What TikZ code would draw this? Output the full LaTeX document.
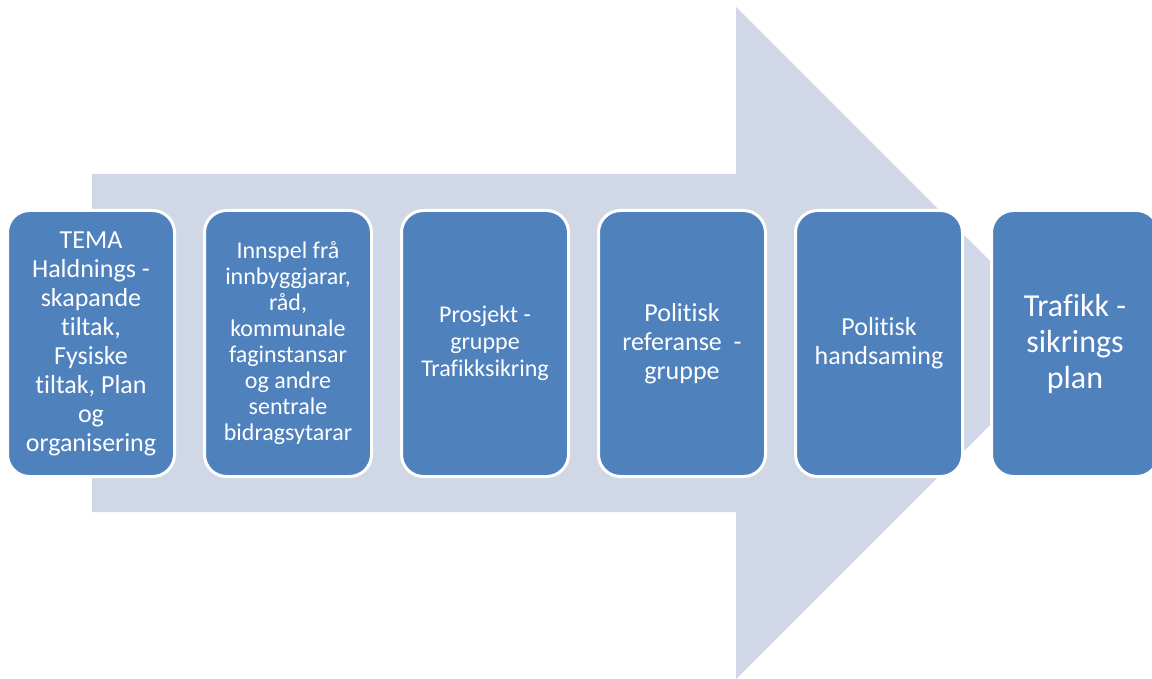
\documentclass[tikz,border=0pt]{standalone}
\usepackage{fontspec}
\setmainfont[Ligatures={NoCommon}]{Carlito}
\definecolor{boxblue}{HTML}{4F81BD}
\definecolor{arrowgrey}{HTML}{D0D8E8}
\begin{document}
\begin{tikzpicture}[x=1pt,y=-1pt,
        stage/.style={draw=white, line width=3pt, fill=boxblue, rounded corners=22pt,
            minimum width=167pt, minimum height=266pt, text=white, align=center, inner sep=0pt}]
        \useasboundingbox (0,0) rectangle (1152,679);
        \clip (0,0) rectangle (1152,679);
        % big background arrow
        \fill[arrowgrey] (92,174) -- (736,174) -- (736,7) -- (1072,343) -- (736,679) -- (736,512) -- (92,512) -- cycle;

        \node[stage, font=\fontsize{26}{29}\selectfont] (1) at (91,343.5) {TEMA\\Haldnings -\\skapande\\tiltak,\\Fysiske\\tiltak, Plan\\og\\organisering};
        \node[stage, font=\fontsize{24}{26}\selectfont] (2) at (288,343.5) {Innspel frå\\innbyggjarar,\\råd,\\kommunale\\faginstansar\\og andre\\sentrale\\bidragsytarar};
        \node[stage, font=\fontsize{24}{27}\selectfont] (3) at (485,343.5) {Prosjekt -\\gruppe\\Trafikksikring};
        \node[stage, font=\fontsize{26}{29}\selectfont] (4) at (682,343.5) {Politisk\\referanse\ \ -\\gruppe};
        \node[stage, font=\fontsize{26}{29}\selectfont] (5) at (879,343.5) {Politisk\\handsaming};
        \node[stage, font=\fontsize{32}{36}\selectfont] (6) at (1075,343.5) {Trafikk -\\sikrings\\plan};
    \end{tikzpicture}
\end{document}
